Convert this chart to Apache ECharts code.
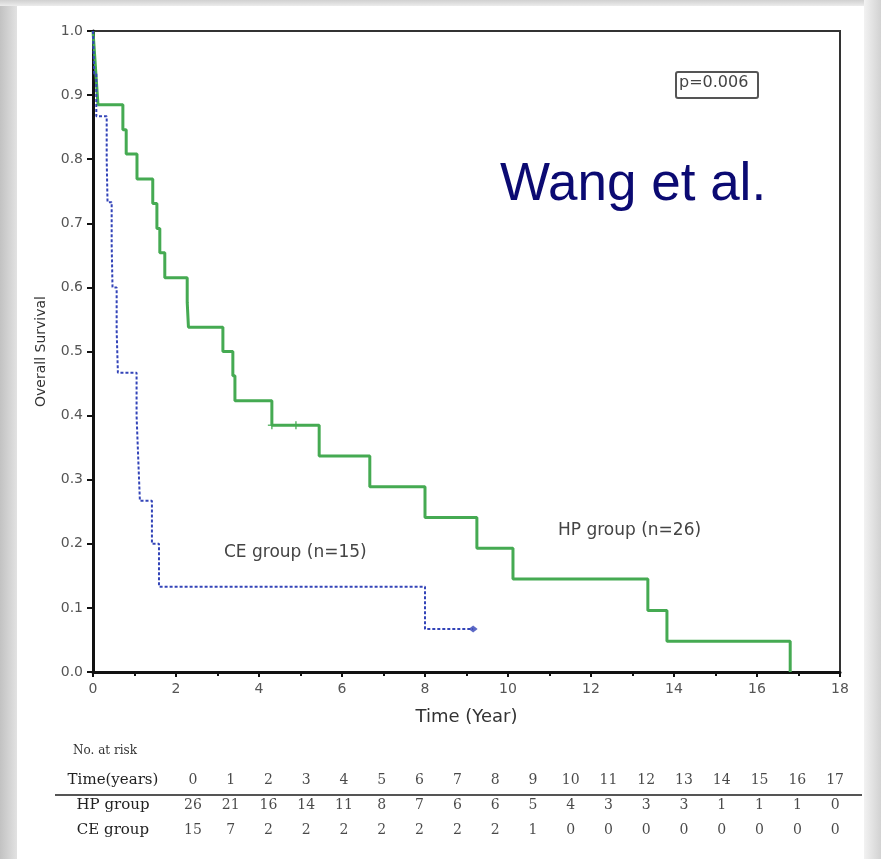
<!DOCTYPE html>
<html>
<head>
<meta charset="utf-8">
<script src="https://cdn.jsdelivr.net/npm/echarts@6/dist/echarts.min.js"></script>
<style>
html,body{margin:0;padding:0;background:#fff;}
#chart{width:881px;height:859px;}
</style>
</head>
<body>
<div id="chart"></div>
<script>
// ---- Data ----
var hpTimes = [0, 0.04, 0.08, 0.12, 0.72, 0.80, 1.06, 1.44, 1.54, 1.61, 1.73, 2.27, 2.30, 3.13, 3.37, 3.42, 4.31, 5.45, 6.67, 8.00, 9.25, 10.12, 13.37, 13.83, 16.80];
var hpSurv  = [1.0, 0.962, 0.923, 0.885, 0.846, 0.808, 0.769, 0.731, 0.692, 0.654, 0.615, 0.577, 0.538, 0.500, 0.462, 0.423, 0.385, 0.337, 0.289, 0.241, 0.193, 0.145, 0.096, 0.048, 0.0];
var hpCensorTimes = [4.31, 4.89];
var hpCensorSurv  = [0.385, 0.385];

var ceTimes = [0, 0.03, 0.08, 0.33, 0.35, 0.45, 0.47, 0.57, 0.60, 1.05, 1.09, 1.13, 1.42, 1.59, 8.00, 9.16];
var ceSurv  = [1.0, 0.933, 0.867, 0.800, 0.733, 0.667, 0.600, 0.533, 0.467, 0.400, 0.333, 0.267, 0.200, 0.133, 0.067, 0.067];
var ceCensorTimes = [9.16];
var ceCensorSurv  = [0.067];

var riskTimes = ['0','1','2','3','4','5','6','7','8','9','10','11','12','13','14','15','16','17'];
var hpRisk = [26,21,16,14,11,8,7,6,6,5,4,3,3,3,1,1,1,0];
var ceRisk = [15,7,2,2,2,2,2,2,2,1,0,0,0,0,0,0,0,0];
var riskRows = ['Time(years)', 'HP group', 'CE group'];

// ---- Build ----
function zip(a, b){ return a.map(function(v,i){ return [v, b[i]]; }); }

var tableData = [];
riskTimes.forEach(function(t, i){
  tableData.push({value:[i, riskRows[0]], txt: t});
  tableData.push({value:[i, riskRows[1]], txt: String(hpRisk[i])});
  tableData.push({value:[i, riskRows[2]], txt: String(ceRisk[i])});
});

var plus = 'path://M4,0 L6,0 L6,4 L10,4 L10,6 L6,6 L6,10 L4,10 L4,6 L0,6 L0,4 L4,4 Z';

var chart = echarts.init(document.getElementById('chart'), null, {renderer:'canvas'});
var sans = 'DejaVu Sans, Verdana, sans-serif';
var arial = 'Liberation Sans, Arial, sans-serif';
var serif = 'DejaVu Serif, Liberation Serif, serif';

chart.setOption({
  animation: false,
  backgroundColor: '#ffffff',
  grid: [
    {left: 93, top: 31, width: 747, height: 641, show: true, borderColor: '#333', borderWidth: 2, backgroundColor: '#fff'},
    {left: 174, top: 768, width: 680, height: 75}
  ],
  xAxis: [
    {
      gridIndex: 0, type: 'value', min: 0, max: 18, interval: 2,
      name: 'Time (Year)', nameLocation: 'middle', nameGap: 36,
      nameTextStyle: {fontFamily: sans, fontSize: 18, color: '#333'},
      axisLine: {show: true, onZero: false, lineStyle: {color: '#111', width: 3}},
      axisTick: {show: true, length: 5, lineStyle: {color: '#111', width: 2}},
      minorTick: {show: true, splitNumber: 2, length: 4, lineStyle: {color: '#111', width: 2}},
      axisLabel: {fontFamily: sans, fontSize: 14, color: '#555', margin: 10},
      splitLine: {show: false}
    },
    {
      gridIndex: 1, type: 'category', data: riskTimes, show: false
    }
  ],
  yAxis: [
    {
      gridIndex: 0, type: 'value', min: 0, max: 1, interval: 0.1,
      name: 'Overall Survival', nameLocation: 'middle', nameGap: 45,
      nameTextStyle: {fontFamily: sans, fontSize: 14, color: '#333'},
      axisLine: {show: true, lineStyle: {color: '#111', width: 3}},
      axisTick: {show: true, length: 6, lineStyle: {color: '#111', width: 2}},
      axisLabel: {fontFamily: sans, fontSize: 14, color: '#555', margin: 10,
        formatter: function(v){ return v.toFixed(1); }},
      splitLine: {show: false}
    },
    {
      gridIndex: 1, type: 'category', data: riskRows, inverse: true,
      axisLine: {show: false}, axisTick: {show: false}, splitLine: {show: false},
      axisLabel: {fontFamily: serif, fontSize: 15, color: '#222', align: 'center', margin: 61}
    }
  ],
  series: [
    {
      name: 'HP group', type: 'line', xAxisIndex: 0, yAxisIndex: 0,
      step: 'end', data: zip(hpTimes, hpSurv), showSymbol: false, symbol: 'none',
      lineStyle: {color: '#45aa52', width: 3}
    },
    {
      name: 'CE group', type: 'line', xAxisIndex: 0, yAxisIndex: 0,
      step: 'end', data: zip(ceTimes, ceSurv), showSymbol: false, symbol: 'none',
      lineStyle: {color: '#3344b8', width: 2, type: [3, 2]}
    },
    {
      type: 'scatter', xAxisIndex: 0, yAxisIndex: 0,
      data: zip(hpCensorTimes, hpCensorSurv), symbol: plus, symbolSize: 8,
      itemStyle: {color: '#45aa52'}
    },
    {
      type: 'scatter', xAxisIndex: 0, yAxisIndex: 0,
      data: zip(ceCensorTimes, ceCensorSurv), symbol: 'diamond', symbolSize: [9, 7],
      itemStyle: {color: '#3344b8'}
    },
    {
      type: 'scatter', xAxisIndex: 1, yAxisIndex: 1,
      data: tableData, symbolSize: 0,
      label: {show: true, position: 'inside', fontFamily: serif, fontSize: 14, color: '#1a1a1a',
        formatter: function(p){ return p.data.txt; }}
    }
  ],
  graphic: [
    {type: 'rect', left: 0, top: 0, shape: {width: 17, height: 859}, silent: true, z: 100,
      style: {fill: new echarts.graphic.LinearGradient(0,0,1,0,[{offset:0,color:'#c2c2c2'},{offset:1,color:'#e2e2e2'}])}},
    {type: 'rect', left: 0, top: 0, shape: {width: 881, height: 6}, silent: true, z: 100,
      style: {fill: new echarts.graphic.LinearGradient(0,0,0,1,[{offset:0,color:'#d0d0d0'},{offset:1,color:'#ececec'}])}},
    {type: 'rect', left: 864, top: 0, shape: {width: 17, height: 859}, silent: true, z: 100,
      style: {fill: new echarts.graphic.LinearGradient(0,0,1,0,[{offset:0,color:'#f2f2f2'},{offset:1,color:'#d2d2d2'}])}},
    {type: 'rect', left: 675, top: 71, shape: {width: 82, height: 26, r: 2}, z: 50,
      style: {fill: '#fff', stroke: '#555', lineWidth: 2}},
    {type: 'text', left: 679, top: 75, z: 51,
      style: {text: 'p=0.006', fontFamily: sans, fontSize: 16, fill: '#444'}},
    {type: 'text', left: 500, top: 159, z: 51,
      style: {text: 'Wang et al.', fontFamily: arial, fontSize: 53, fill: '#0b0a72'}},
    {type: 'text', left: 224, top: 544, z: 51,
      style: {text: 'CE group (n=15)', fontFamily: sans, fontSize: 17, fill: '#444'}},
    {type: 'text', left: 558, top: 522, z: 51,
      style: {text: 'HP group (n=26)', fontFamily: sans, fontSize: 17, fill: '#444'}},
    {type: 'text', left: 73, top: 745, z: 51,
      style: {text: 'No. at risk', fontFamily: serif, fontSize: 12, fill: '#333'}},
    {type: 'line', z: 51, shape: {x1: 55, y1: 795, x2: 862, y2: 795},
      style: {stroke: '#555', lineWidth: 2}}
  ]
});
</script>
</body>
</html>
